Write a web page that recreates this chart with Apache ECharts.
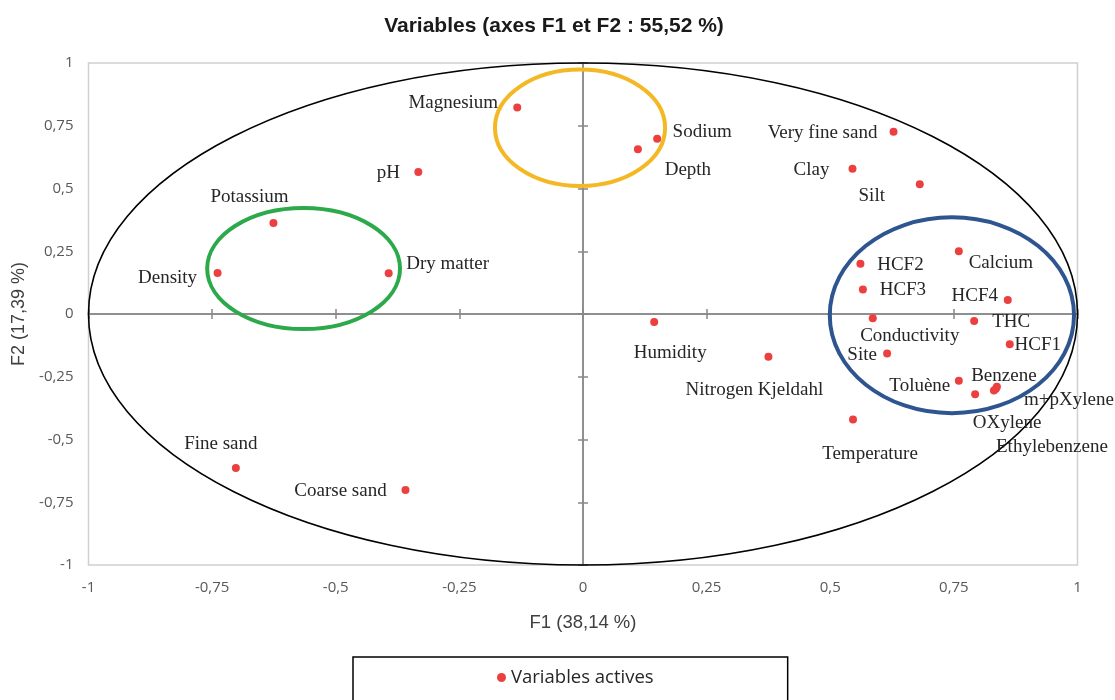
<!DOCTYPE html>
<html><head><meta charset="utf-8">
<script src="https://cdn.jsdelivr.net/npm/echarts@6/dist/echarts.min.js"></script>
<style>html,body{margin:0;padding:0;background:#fff}#c{width:1115px;height:700px}</style>
</head><body><div id="c"></div>
<script>
// ---- data ----
const names = ['Magnesium','Sodium','Depth','pH','Dry matter','Potassium','Density','Very fine sand','Clay','Silt','Calcium','HCF2','HCF3','HCF4','THC','Conductivity','HCF1','Humidity','Nitrogen Kjeldahl','Site','Toluène','Benzene','m+pXylene','OXylene','Ethylebenzene','Temperature','Fine sand','Coarse sand'];
const f1 = [-0.133,0.150,0.111,-0.333,-0.393,-0.626,-0.739,0.628,0.545,0.681,0.760,0.561,0.566,0.859,0.791,0.586,0.863,0.144,0.375,0.615,0.760,0.837,0.831,0.793,0.835,0.546,-0.702,-0.359];
const f2 = [0.823,0.698,0.656,0.566,0.162,0.363,0.163,0.726,0.579,0.517,0.250,0.200,0.098,0.056,-0.028,-0.017,-0.121,-0.032,-0.170,-0.157,-0.266,-0.290,-0.305,-0.320,-0.298,-0.420,-0.614,-0.701];
const xTickLabels = ['-1','-0,75','-0,5','-0,25','0','0,25','0,5','0,75','1'];
const yTickLabels = ['-1','-0,75','-0,5','-0,25','0','0,25','0,5','0,75','1'];
// reference ellipses: [centerF1, centerF2, radiusF1, radiusF2]
const ellipses = [[0,0,1,1],[-0.006,0.742,0.172,0.232],[-0.565,0.181,0.195,0.241],[0.746,-0.005,0.247,0.390]];

// ---- layout / style ----
const ellipseStyle = [{c:'#000000',w:1.6},{c:'#F4B824',w:4},{c:'#2CA94A',w:4},{c:'#2F5590',w:4}];
const labelOffset = {
 'Magnesium':[-64,-4],'Sodium':[45,-7],'Depth':[50,21],'pH':[-30,1],'Dry matter':[59,-9],
 'Potassium':[-24,-26],'Density':[-50,5],'Very fine sand':[-71,1],'Clay':[-41,1],'Silt':[-48,12],
 'Calcium':[42,12],'HCF2':[40,1],'HCF3':[40,1],'HCF4':[-33,-4],'THC':[37,1],'Conductivity':[37,18],
 'HCF1':[28,1],'Humidity':[16,31],'Nitrogen Kjeldahl':[-14,33],'Site':[-25,2],'Toluène':[-39,5],
 'Benzene':[7,-11],'m+pXylene':[75,9],'OXylene':[32,29],'Ethylebenzene':[56,58],'Temperature':[17,35],
 'Fine sand':[-15,-24],'Coarse sand':[-65,1]
};

const pts = names.map((n,i)=>({name:n, value:[f1[i], f2[i]], label:{offset:labelOffset[n]}}));

const chart = echarts.init(document.getElementById('c'), null, {renderer:'canvas'});
const tickFont = {fontFamily:'Open Sans', fontSize:15, color:'#595959'};
const baseAxis = {type:'value', min:-1, max:1, interval:0.25, splitLine:{show:false}};
chart.setOption({
 animation:false,
 backgroundColor:'#fff',
 title:{text:'Variables (axes F1 et F2 : 55,52 %)', left:549, textAlign:'center', top:11,
   textStyle:{fontFamily:'Liberation Sans', fontSize:21, fontWeight:'bold', color:'#1a1a1a'}},
 grid:{left:88.5, right:37.5, top:63, bottom:135, show:true, borderColor:'#D0D0D0', borderWidth:1.5,
   containLabel:false, outerBoundsMode:'none'},
 legend:{data:['Variables actives'], left:353, top:657, orient:'horizontal',
   padding:[11,134,30,144], borderColor:'#000', borderWidth:1.5, icon:'circle', itemWidth:9, itemHeight:9, itemGap:6,
   itemStyle:{opacity:1},
   textStyle:{fontFamily:'Open Sans', fontSize:18.5, color:'#262626'}},
 xAxis:[
  Object.assign({}, baseAxis, {position:'bottom', axisLine:{show:false}, axisTick:{show:false},
    axisLabel:Object.assign({margin:15, formatter:v=>xTickLabels[Math.round((v+1)/0.25)]}, tickFont),
    name:'F1 (38,14 %)', nameLocation:'middle', nameGap:48,
    nameTextStyle:{fontFamily:'Liberation Sans', fontSize:18.5, color:'#404040'}}),
  Object.assign({}, baseAxis, {axisLine:{onZero:true, lineStyle:{color:'#888', width:1.5}},
    axisTick:{show:true, inside:true, length:5, lineStyle:{color:'#888', width:1.5}}, axisLabel:{show:false}}),
  Object.assign({}, baseAxis, {axisLine:{onZero:true, lineStyle:{color:'#888', width:1.5}},
    axisTick:{show:true, inside:false, length:5, lineStyle:{color:'#888', width:1.5}}, axisLabel:{show:false}})
 ],
 yAxis:[
  Object.assign({}, baseAxis, {position:'left', axisLine:{show:false}, axisTick:{show:false},
    axisLabel:Object.assign({margin:15, formatter:v=>yTickLabels[Math.round((v+1)/0.25)]}, tickFont),
    name:'F2 (17,39 %)', nameLocation:'middle', nameGap:57, nameRotate:90,
    nameTextStyle:{fontFamily:'Liberation Sans', fontSize:18, color:'#404040'}}),
  Object.assign({}, baseAxis, {axisLine:{onZero:true, lineStyle:{color:'#888', width:1.5}},
    axisTick:{show:true, inside:true, length:5, lineStyle:{color:'#888', width:1.5}}, axisLabel:{show:false}}),
  Object.assign({}, baseAxis, {axisLine:{onZero:true, lineStyle:{color:'#888', width:1.5}},
    axisTick:{show:true, inside:false, length:5, lineStyle:{color:'#888', width:1.5}}, axisLabel:{show:false}})
 ],
 series:[
  {type:'custom', name:'ellipses', silent:true, z:1, clip:false, data:ellipses,
   renderItem:(params, api)=>{
     const c = api.coord([api.value(0), api.value(1)]);
     const s = api.size([api.value(2), api.value(3)]);
     const st = ellipseStyle[params.dataIndex];
     return {type:'ellipse', shape:{cx:c[0], cy:c[1], rx:s[0], ry:s[1]},
       style:{fill:null, stroke:st.c, lineWidth:st.w}};
   }},
  {type:'scatter', name:'Variables actives', z:3, symbol:'circle', symbolSize:8,
   itemStyle:{color:'#EC4040', opacity:1}, data:pts,
   label:{show:true, position:'inside', align:'center', verticalAlign:'middle', formatter:p=>p.name,
     fontFamily:'Liberation Serif', fontSize:19, color:'#262626'}}
 ]
});
</script></body></html>
